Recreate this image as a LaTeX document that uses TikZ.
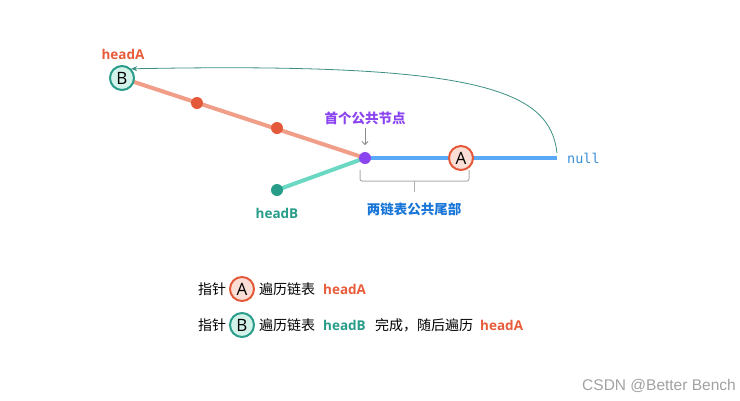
\documentclass[tikz,border=0pt]{standalone}
\usepackage{fontspec}
\setmainfont{Open Sans}
\newfontfamily\cjk{Noto Sans CJK SC}
\newfontfamily\monof{DejaVu Sans Mono}
\newfontfamily\wmfont{Liberation Sans}
\usetikzlibrary{arrows.meta}
\definecolor{salmonline}{HTML}{F19E88}
\definecolor{reddot}{HTML}{E4593A}
\definecolor{orangetext}{HTML}{E85C3A}
\definecolor{tealborder}{HTML}{2A9D8A}
\definecolor{tealfill}{HTML}{D3F2EA}
\definecolor{tealline}{HTML}{6BD8C3}
\definecolor{tealdot}{HTML}{279C89}
\definecolor{blueline}{HTML}{5AA9F7}
\definecolor{purpledot}{HTML}{8B45F0}
\definecolor{afill}{HTML}{FBDFD6}
\definecolor{nulltext}{HTML}{3A8FD9}
\definecolor{bluelabel}{HTML}{1976D8}
\definecolor{curvecol}{HTML}{3E8E84}
\definecolor{graycol}{HTML}{8A8A8A}
\tikzset{
  ptrA/.style={circle, draw=reddot, fill=afill, line width=2pt, minimum size=24pt, inner sep=0pt, font=\fontsize{17}{17}\selectfont},
  ptrB/.style={circle, draw=tealborder, fill=tealfill, line width=2pt, minimum size=24pt, inner sep=0pt, font=\fontsize{17}{17}\selectfont},
  dotnode/.style={circle, inner sep=0pt, minimum size=12pt},
  cjktext/.style={font=\cjk\fontsize{14}{14}\selectfont, inner sep=0pt},
  cjkbold/.style={font=\cjk\bfseries\fontsize{13.5}{14}\selectfont, inner sep=0pt},
  headlbl/.style={font=\bfseries\fontsize{13.5}{14}\selectfont, inner sep=0pt},
}
\begin{document}
\begin{tikzpicture}[x=1pt,y=-1pt]
\useasboundingbox (0,0) rectangle (740,400);
% main lines
\coordinate (joinP) at (365,158);
\coordinate (nullP) at (557,158);
\draw[salmonline, line width=4pt] (122,78) -- (joinP);
\draw[tealline, line width=4pt] (277,190) -- (joinP);
\draw[blueline, line width=4pt] (joinP) -- (nullP);
% dots
\node[dotnode, fill=reddot] (r1) at (197,103) {};
\node[dotnode, fill=reddot] (r2) at (277,128) {};
\node[dotnode, fill=tealdot] (hb) at (277,190) {};
\node[dotnode, fill=purpledot] (jn) at (joinP) {};
% pointers
\node[ptrB] (B) at (122,78) {B};
\node[ptrA] (A) at (461,158) {A};
% labels
\node[headlbl, text=orangetext] (hA) at (123,54) {headA};
\node[headlbl, text=tealdot] (hB) at (277,213) {headB};
\node[font=\monof\fontsize{13.5}{14}\selectfont, text=nulltext, anchor=west, inner sep=0pt] (nl) at (567,158) {null};
\node[cjkbold, text=purpledot] (first) at (365,118) {首个公共节点};
\coordinate (arrEnd) at (365,145);
\draw[graycol, line width=0.8pt, -{Straight Barb[length=3pt,width=6pt]}] (365,128) -- (arrEnd);
% brace
\draw[graycol!70, line width=1pt, rounded corners=2pt] (360,170) -- (360,181) -- (414,181) -- (469,181) -- (469,170);
\draw[graycol!70, line width=1pt] (414,181) -- (414,192);
\node[cjkbold, text=bluelabel] (tail) at (414,209) {两链表公共尾部};
% curve from null back to B
\draw[curvecol, line width=0.8pt, -{Stealth[length=6pt,width=5pt]}] (nullP) ++(0,-5) .. controls (550,90) and (480,62) .. (B.north east);
% legend
\node[cjktext, anchor=west] (l1a) at (198,289) {指针};
\node[ptrA] (lA) at (242,289) {A};
\node[cjktext, anchor=west] (l1b) at (259,289) {遍历链表};
\node[headlbl, text=orangetext, anchor=west] (l1c) at (323,289) {headA};
\node[cjktext, anchor=west] (l2a) at (198,325) {指针};
\node[ptrB] (lB) at (242,325) {B};
\node[cjktext, anchor=west] (l2b) at (259,325) {遍历链表};
\node[headlbl, text=tealdot, anchor=west] (l2c) at (323,325) {headB};
\node[cjktext, anchor=west] (l2d) at (375,325) {完成，随后遍历};
\node[headlbl, text=orangetext, anchor=west] (l2e) at (480,325) {headA};
% watermark
\node[font=\wmfont\fontsize{15.5}{16}\selectfont, text=graycol!80, anchor=east, inner sep=0pt] (wm) at (736,386) {CSDN @Better Bench};
\end{tikzpicture}
\end{document}
